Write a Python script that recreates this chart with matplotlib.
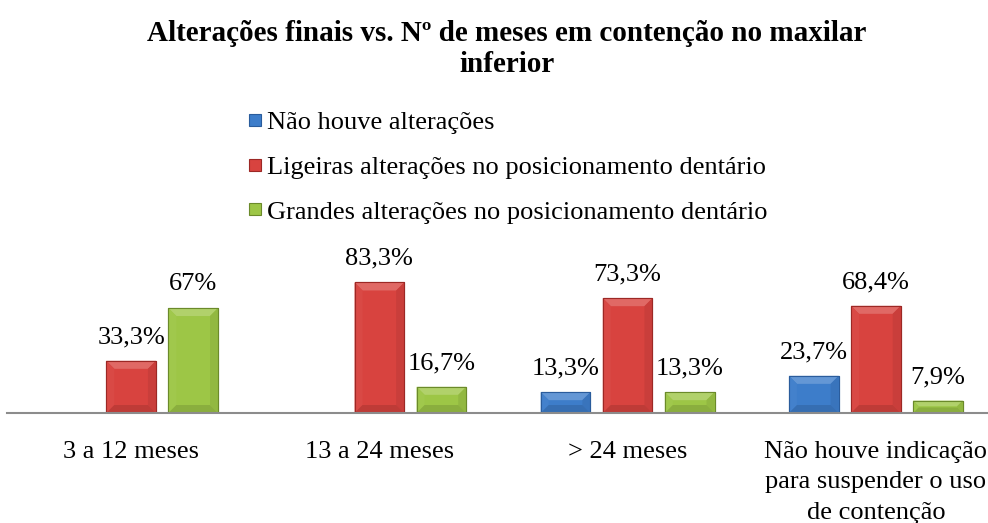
import numpy as np
import matplotlib
matplotlib.use('Agg')
import matplotlib.pyplot as plt
from matplotlib.lines import Line2D
from matplotlib.patches import Polygon
from matplotlib.colors import to_rgb

plt.rcParams['font.family'] = ['Liberation Serif', 'DejaVu Serif']

# Data
categories = ['3 a 12 meses', '13 a 24 meses', '> 24 meses',
              'Não houve indicação\npara suspender o uso\nde contenção']
series = ['Não houve alterações',
          'Ligeiras alterações no posicionamento dentário',
          'Grandes alterações no posicionamento dentário']
sem_alteracoes = [np.nan, np.nan, 13.3, 23.7]
ligeiras = [33.3, 83.3, 73.3, 68.4]
grandes = [67, 16.7, 13.3, 7.9]

colors = ['#3D7DCA', '#D8433F', '#9DC646']
edges = ['#2A5C9C', '#9C2825', '#6B8A2A']


def shade(c, f):
    r = np.array(to_rgb(c))
    if f > 0:
        return tuple(r + (1 - r) * f)
    return tuple(r * (1 + f))


fig = plt.figure(figsize=(9.88, 5.23), dpi=100)
W, H = 988, 523
ax_w, ax_h = 993, 141
# axes placed in pixel terms: baseline at y=413, groups spaced ~248 px
ax = fig.add_axes([7 / W, (H - 413) / H, ax_w / W, ax_h / H])

x = np.arange(len(categories))
width = 0.2
step = 0.25
ax.set_xlim(-0.5, len(categories) - 0.5)
ax.set_ylim(0, 90)
px_x = len(categories) / ax_w
px_y = 90 / ax_h

# bevel: lighter top, slightly darker right/bottom
def bevel(bar, c):
    x0, y0 = bar.get_x(), bar.get_y()
    w, h = bar.get_width(), bar.get_height()
    b = min(8, 0.45 * h / px_y)
    bx, by = b * px_x, b * px_y
    x1, y1 = x0 + w, y0 + h
    top = [(x0, y1), (x1, y1), (x1 - bx, y1 - by), (x0 + bx, y1 - by)]
    left = [(x0, y0), (x0, y1), (x0 + bx, y1 - by), (x0 + bx, y0 + by)]
    right = [(x1, y0), (x1, y1), (x1 - bx, y1 - by), (x1 - bx, y0 + by)]
    bottom = [(x0, y0), (x1, y0), (x1 - bx, y0 + by), (x0 + bx, y0 + by)]
    for pts, f in [(top, 0.2), (left, 0.03), (right, -0.07), (bottom, -0.12)]:
        ax.add_patch(Polygon(pts, closed=True, facecolor=shade(c, f),
                             edgecolor='none', zorder=3.5))


for i, vals in enumerate([sem_alteracoes, ligeiras, grandes]):
    pos = x + (i - 1) * step
    bars = ax.bar(pos, vals, width, color=colors[i], edgecolor=edges[i],
                  linewidth=0.8, zorder=3)
    for bar, xp, v in zip(bars, pos, vals):
        if np.isnan(v):
            continue
        bevel(bar, colors[i])
        lab = f"{v:g}".replace('.', ',') + '%'
        ax.annotate(lab, (xp, v), xytext=(0, 17), textcoords='offset points',
                    ha='center', va='center', fontsize=19, clip_on=False)
    # redraw outline on top of bevel
    ax.bar(pos, vals, width, color='none', edgecolor=edges[i],
           linewidth=0.8, zorder=3.6)

ax.set_yticks([])
ax.set_xticks(x)
ax.set_xticklabels(categories, fontsize=19, linespacing=1.5)
ax.tick_params(axis='x', length=0, pad=20)
for s in ['top', 'right', 'left']:
    ax.spines[s].set_visible(False)
ax.spines['bottom'].set_color('#8C8C8C')
ax.spines['bottom'].set_linewidth(1.5)
ax.spines['bottom'].set_zorder(4)

fig.text(507 / W, 1 - 49 / H,
         'Alterações finais vs. Nº de meses em contenção no maxilar\ninferior',
         ha='center', va='center', fontsize=21, fontweight='bold',
         linespacing=1.15)

handles = [Line2D([0], [0], marker='s', linestyle='none', markersize=8,
                  markerfacecolor=c, markeredgecolor=e, markeredgewidth=0.8)
           for c, e in zip(colors, edges)]
fig.legend(handles, series, loc='upper left',
           bbox_to_anchor=(247 / W, 1 - 111 / H), frameon=False,
           fontsize=19, handlelength=0.6, handletextpad=0.15,
           labelspacing=0.8, borderpad=0, borderaxespad=0)

fig.savefig('out.png', dpi=100)
